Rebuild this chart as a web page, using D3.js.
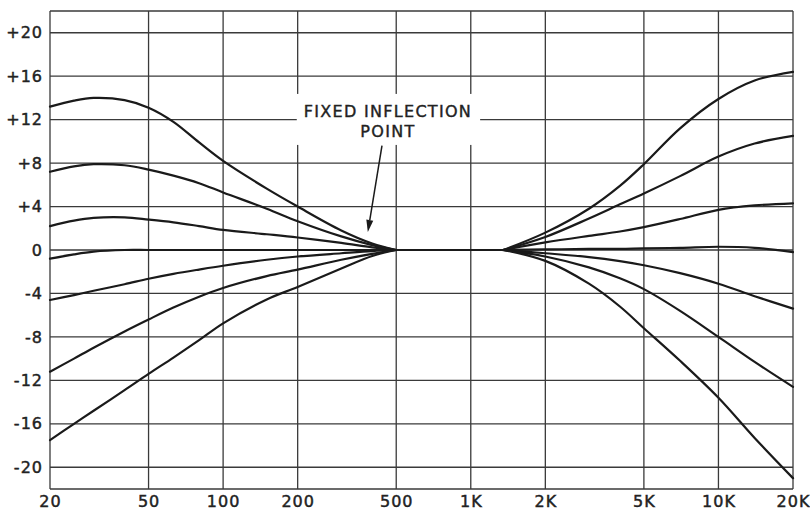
<!DOCTYPE html>
<html>
<head>
<meta charset="utf-8">
<script src="https://cdn.jsdelivr.net/npm/d3@7/dist/d3.min.js"></script>
<style>
  html, body { margin: 0; padding: 0; background: #ffffff; }
  svg { display: block; }
  text { font-family: "DejaVu Sans", sans-serif; fill: #222222; }
</style>
</head>
<body>
<svg id="chart" width="810" height="511"></svg>
<script>
// ---------------- data ----------------
const freqTicks  = [20, 50, 100, 200, 500, 1000, 2000, 5000, 10000, 20000];
const freqLabels = ["20", "50", "100", "200", "500", "1K", "2K", "5K", "10K", "20K"];
const dbTicks    = [-20, -16, -12, -8, -4, 0, 4, 8, 12, 16, 20];
const dbLabels   = ["-20", "-16", "-12", "-8", "-4", "0", "+4", "+8", "+12", "+16", "+20"];

// bass control curves (Hz, dB)
const bassFreqs = [20, 25, 30, 40, 50, 63, 80, 100, 150, 200, 300, 400, 500];
const bass1 = [13.2, 13.75, 14.0, 13.8, 13.1, 11.8, 9.9, 8.2, 5.65, 4.0, 1.8, 0.6, 0];
const bass2 = [7.2, 7.7, 7.9, 7.8, 7.4, 6.85, 6.15, 5.3, 3.8, 2.65, 1.25, 0.45, 0];
const bass3 = [2.2, 2.7, 2.95, 3.0, 2.8, 2.55, 2.2, 1.85, 1.45, 1.15, 0.65, 0.25, 0];
const bass4 = [-0.8, -0.4, -0.15, 0, 0, 0, 0, 0, 0, 0, 0, 0, 0];
const bass5 = [-4.6, -4.15, -3.75, -3.15, -2.65, -2.2, -1.8, -1.45, -0.9, -0.6, -0.3, -0.1, 0];
const bass6 = [-11.2, -10.0, -9.0, -7.5, -6.4, -5.3, -4.3, -3.5, -2.4, -1.8, -0.9, -0.35, 0];
const bass7 = [-17.5, -16.0, -14.8, -12.9, -11.4, -9.9, -8.3, -6.75, -4.55, -3.4, -1.7, -0.55, 0];

// flat section shared by every curve between the two hinge points
const midFreqs = [500, 1350];
const midValues = [0, 0];

// treble control curves (Hz, dB)
const trebleFreqs = [1350, 2000, 3000, 4000, 5000, 7000, 10000, 14000, 20000];
const treble1 = [0, 1.6, 3.8, 5.9, 7.9, 11.2, 13.9, 15.6, 16.4];
const treble2 = [0, 1.2, 2.9, 4.2, 5.2, 6.8, 8.6, 9.8, 10.5];
const treble3 = [0, 0.7, 1.3, 1.7, 2.1, 2.85, 3.7, 4.1, 4.3];
const treble4 = [0, 0.05, 0.1, 0.1, 0.15, 0.2, 0.3, 0.2, -0.2];
const treble5 = [0, -0.3, -0.65, -1.02, -1.4, -2.13, -3.1, -4.25, -5.4];
const treble6 = [0, -0.6, -1.6, -2.6, -3.6, -5.6, -8.0, -10.3, -12.6];
const treble7 = [0, -1.0, -3.1, -5.2, -7.2, -10.2, -13.6, -17.3, -21.0];

// annotation (in data units)
const noteLines = ["FIXED INFLECTION", "POINT"];
const noteAnchor = { f: 463, db: 12.25 };
const arrowFrom = { f: 438, db: 9.6 };
const arrowTo   = { f: 384, db: 1.66 };

// ---------------- drawing ----------------
const svg = d3.select("#chart");
const dbDomain = [-22, 22];
const x = d3.scaleLog().domain([20, 20000]).range([50, 793]);
const y = d3.scaleLinear().domain(dbDomain).range([489, 11]);

const gridColor = "#3a3a3a";
const curveColor = "#1a1a1a";
const textColor = "#222222";

// grid
const grid = svg.append("g");
grid.selectAll("line.v").data(freqTicks).join("line")
  .attr("x1", d => x(d)).attr("x2", d => x(d))
  .attr("y1", y(dbDomain[1])).attr("y2", y(dbDomain[0]))
  .attr("stroke", gridColor).attr("stroke-width", 1.3);
grid.selectAll("line.h").data(dbTicks.concat(dbDomain)).join("line")
  .attr("x1", x(20)).attr("x2", x(20000))
  .attr("y1", d => y(d)).attr("y2", d => y(d))
  .attr("stroke", gridColor).attr("stroke-width", 1.3);

function styleLabels(sel) {
  sel.selectAll("text")
    .style("font-size", "16px").style("letter-spacing", "1px")
    .attr("fill", textColor).attr("stroke", textColor).attr("stroke-width", 0.45)
    .attr("font-family", "DejaVu Sans");
}

// axes (labels only)
const yAxis = d3.axisLeft(y).tickValues(dbTicks)
  .tickFormat((d, i) => dbLabels[i]).tickSize(0).tickPadding(7);
const gy = svg.append("g").attr("transform", `translate(${x(20)},0)`).call(yAxis);
gy.select(".domain").remove();
styleLabels(gy);

const xAxis = d3.axisBottom(x).tickValues(freqTicks)
  .tickFormat((d, i) => freqLabels[i]).tickSize(0).tickPadding(7);
const gx = svg.append("g").attr("transform", `translate(0,${y(dbDomain[0])})`).call(xAxis);
gx.select(".domain").remove();
styleLabels(gx);

// curves
const line = d3.line().x(d => x(d.f)).y(d => y(d.v)).curve(d3.curveCatmullRom.alpha(0.5));
const toPts = (freqs) => (vals) => vals.map((v, i) => ({ f: freqs[i], v }));
const bassSeries = [bass1, bass2, bass3, bass4, bass5, bass6, bass7].map(toPts(bassFreqs));
const trebleSeries = [treble1, treble2, treble3, treble4, treble5, treble6, treble7].map(toPts(trebleFreqs));
const midSeries = [midValues].map(toPts(midFreqs));

svg.append("g").selectAll("path").data(bassSeries.concat(midSeries, trebleSeries)).join("path")
  .attr("d", line).attr("fill", "none")
  .attr("stroke", curveColor).attr("stroke-width", 2.2)
  .attr("stroke-linejoin", "round").attr("stroke-linecap", "round");

// annotation
const note = svg.append("g");
const bg = note.append("rect").attr("fill", "#ffffff");
const txt = note.append("text")
  .attr("text-anchor", "middle")
  .attr("fill", textColor).attr("stroke", textColor).attr("stroke-width", 0.4)
  .style("font-size", "16px").style("letter-spacing", "1.3px");
txt.selectAll("tspan").data(noteLines).join("tspan")
  .attr("x", x(noteAnchor.f))
  .attr("y", (d, i) => y(noteAnchor.db) + i * 20)
  .text(d => d);
const bb = txt.node().getBBox();
bg.attr("x", bb.x - 7).attr("y", bb.y - 8)
  .attr("width", bb.width + 15).attr("height", bb.height + 12);

const ax1 = x(arrowFrom.f), ay1 = y(arrowFrom.db);
const ax2 = x(arrowTo.f), ay2 = y(arrowTo.db);
const ang = Math.atan2(ay2 - ay1, ax2 - ax1);
const headLen = 12, headW = 3.5;
const bx = ax2 - headLen * Math.cos(ang), by = ay2 - headLen * Math.sin(ang);
note.append("line")
  .attr("x1", ax1).attr("y1", ay1).attr("x2", bx).attr("y2", by)
  .attr("stroke", curveColor).attr("stroke-width", 1.5);
note.append("path")
  .attr("d", d3.line()([
    [ax2, ay2],
    [bx + headW * Math.sin(ang), by - headW * Math.cos(ang)],
    [bx - headW * Math.sin(ang), by + headW * Math.cos(ang)]
  ]) + "Z")
  .attr("fill", curveColor);
</script>
</body>
</html>
